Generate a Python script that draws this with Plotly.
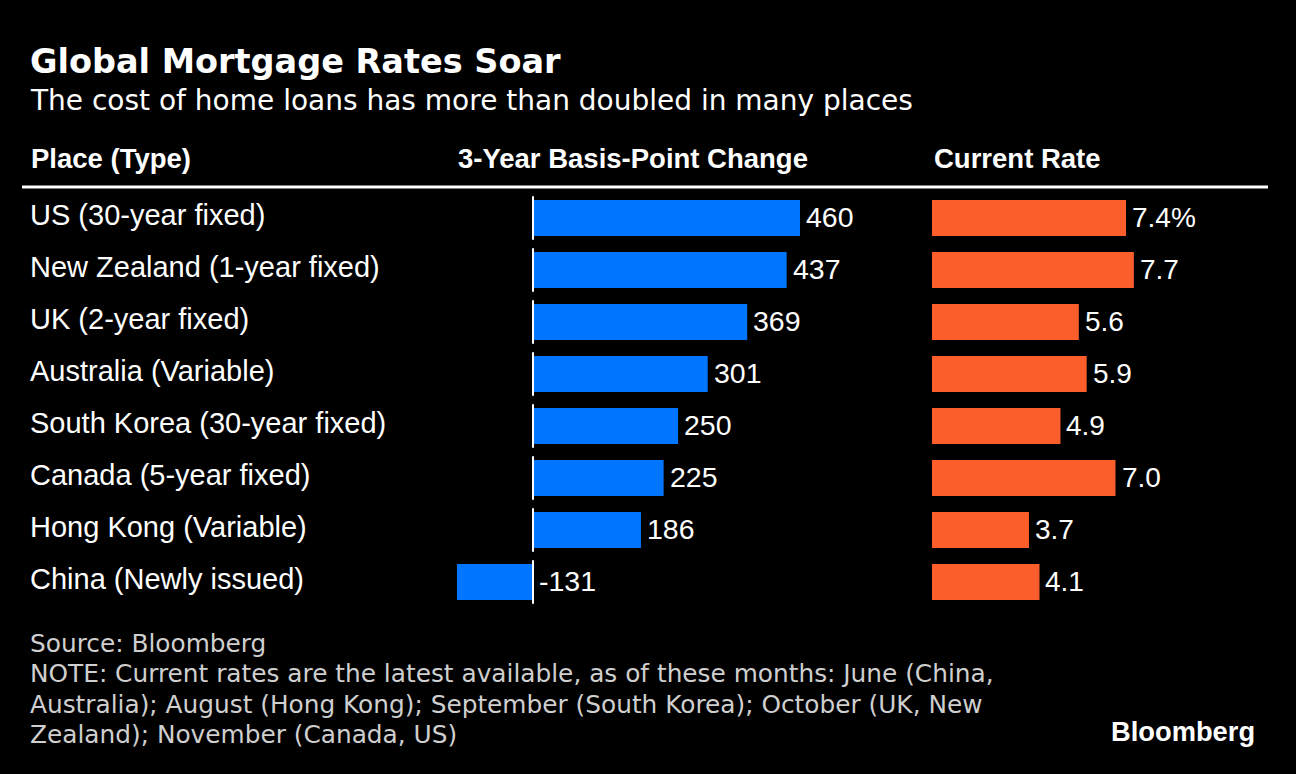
import plotly.graph_objects as go

places = ["US (30-year fixed)", "New Zealand (1-year fixed)", "UK (2-year fixed)",
          "Australia (Variable)", "South Korea (30-year fixed)", "Canada (5-year fixed)",
          "Hong Kong (Variable)", "China (Newly issued)"]
bp_change = [460, 437, 369, 301, 250, 225, 186, -131]
current_rate = [7.4, 7.7, 5.6, 5.9, 4.9, 7.0, 3.7, 4.1]
rate_labels = ["7.4%", "7.7", "5.6", "5.9", "4.9", "7.0", "3.7", "4.1"]

W, H = 1296, 774
BLUE = "#0076FF"
ORANGE = "#FC5E2B"
SANS = "Liberation Sans, Arial, sans-serif"
DEJA = "DejaVu Sans, sans-serif"


def px(x):
    return x / W


def py(y):
    return 1 - y / H


ys = list(range(len(places)))

fig = go.Figure()
fig.add_trace(go.Bar(x=bp_change, y=ys, orientation="h", marker_color=BLUE,
                     marker_line_width=0, width=0.69, xaxis="x", yaxis="y",
                     hoverinfo="skip"))
fig.add_trace(go.Bar(x=current_rate, y=ys, orientation="h", marker_color=ORANGE,
                     marker_line_width=0, width=0.69, xaxis="x2", yaxis="y",
                     hoverinfo="skip"))

annotations = []
shapes = []
# title & subtitle
annotations.append(dict(text="<b>Global Mortgage Rates Soar</b>", x=px(28), y=py(62),
                        xref="paper", yref="paper", xanchor="left", yanchor="middle",
                        showarrow=False, font=dict(family=DEJA, size=33.5, color="white")))
annotations.append(dict(text="The cost of home loans has more than doubled in many places",
                        x=px(28), y=py(101), xref="paper", yref="paper", xanchor="left",
                        yanchor="middle", showarrow=False,
                        font=dict(family=DEJA, size=28, color="white")))
# headers
for txt, x in [("Place (Type)", 29), ("3-Year Basis-Point Change", 456), ("Current Rate", 932)]:
    annotations.append(dict(text="<b>" + txt + "</b>", x=px(x), y=py(158), xref="paper",
                            yref="paper", xanchor="left", yanchor="middle", showarrow=False,
                            font=dict(family=SANS, size=27.5, color="white")))
shapes.append(dict(type="line", xref="paper", yref="paper", x0=px(22), x1=px(1268),
                   y0=py(187), y1=py(187), line=dict(color="white", width=3)))

# row labels and values
for i, (p, v, r, rl) in enumerate(zip(places, bp_change, current_rate, rate_labels)):
    annotations.append(dict(text=p, x=px(28), y=i, xref="paper", yref="y", xanchor="left",
                            yanchor="middle", yshift=3, showarrow=False,
                            font=dict(family=SANS, size=29, color="white")))
    annotations.append(dict(text=str(v), x=max(v, 0), y=i, xref="x", yref="y",
                            xanchor="left", yanchor="middle", xshift=4, yshift=1,
                            showarrow=False, font=dict(family=SANS, size=28.5, color="white")))
    annotations.append(dict(text=rl, x=r, y=i, xref="x2", yref="y",
                            xanchor="left", yanchor="middle", xshift=4, yshift=1,
                            showarrow=False, font=dict(family=SANS, size=28, color="white")))
    shapes.append(dict(type="line", xref="x", yref="y", x0=0, x1=0, y0=i - 0.42,
                       y1=i + 0.42, line=dict(color="white", width=2), layer="above"))

# footer
footer = ["Source: Bloomberg",
          "NOTE: Current rates are the latest available, as of these months: June (China,",
          "Australia); August (Hong Kong); September (South Korea); October (UK, New",
          "Zealand); November (Canada, US)"]
for k, line in enumerate(footer):
    annotations.append(dict(text=line, x=px(28), y=py(643 + 30.5 * k), xref="paper",
                            yref="paper", xanchor="left", yanchor="middle",
                            showarrow=False, font=dict(family=DEJA, size=24.8, color="#CFCFCF")))
annotations.append(dict(text="<b>Bloomberg</b>", x=px(1257), y=py(731), xref="paper",
                        yref="paper", xanchor="right", yanchor="middle", showarrow=False,
                        font=dict(family=SANS, size=27.3, color="white")))

# scales: blue zero at 533px, 267px for 460 units; orange zero at 932px, 194px for 7.4 units
blue_scale = 267 / 460
orange_scale = 194 / 7.4
fig.update_layout(
    width=W, height=H, paper_bgcolor="black", plot_bgcolor="black",
    margin=dict(l=0, r=0, t=0, b=0), showlegend=False, barmode="overlay",
    xaxis=dict(domain=[px(440), px(900)], range=[(440 - 533) / blue_scale, (900 - 533) / blue_scale],
               visible=False, fixedrange=True),
    xaxis2=dict(domain=[px(932), px(1268)], range=[0, (1268 - 932) / orange_scale],
                visible=False, fixedrange=True, anchor="y"),
    yaxis=dict(domain=[py(608), py(192)], range=[len(places) - 0.5, -0.5], visible=False,
               fixedrange=True),
    annotations=annotations, shapes=shapes,
)

fig.write_html("out.html", config={"displayModeBar": False},
               post_script="document.body.style.margin='0';document.body.style.overflow='hidden';")
